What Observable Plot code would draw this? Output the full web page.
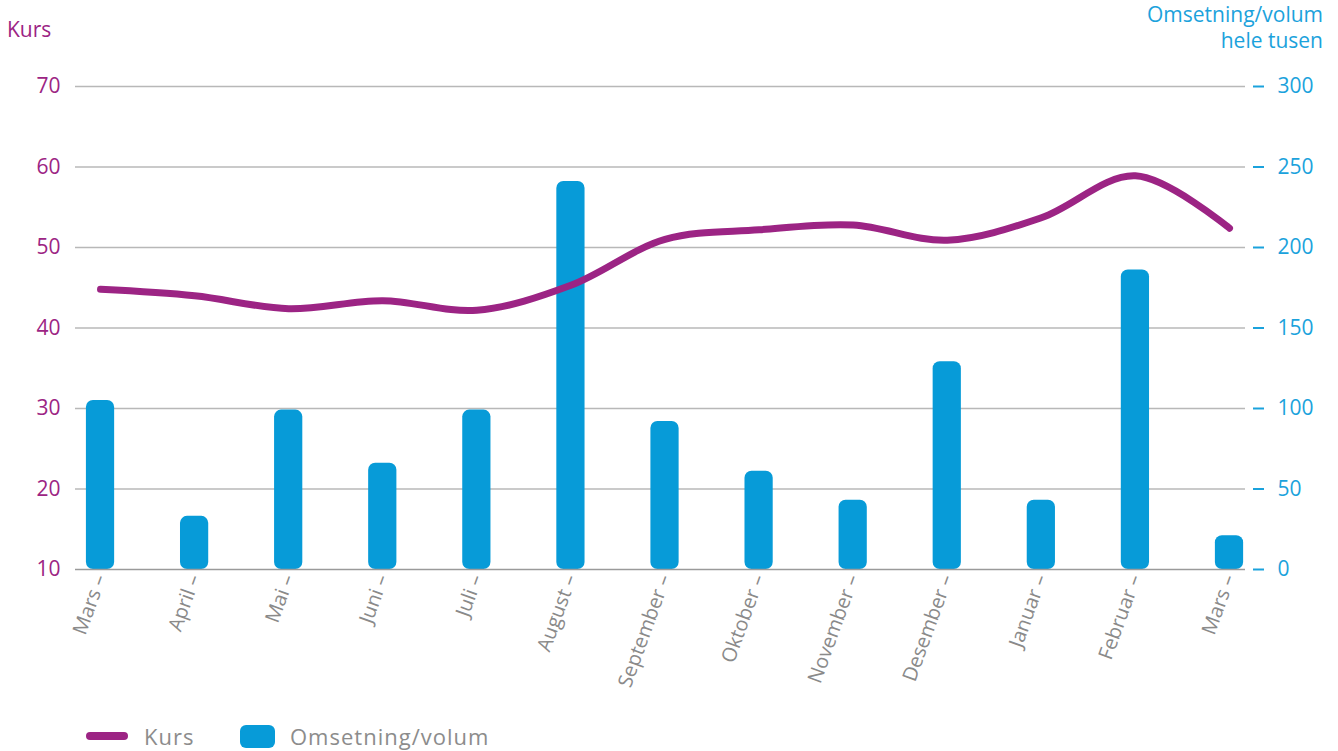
<!DOCTYPE html>
<html><head><meta charset="utf-8">
<script src="https://cdn.jsdelivr.net/npm/d3@7"></script>
<script src="https://cdn.jsdelivr.net/npm/@observablehq/plot@0.6"></script>
<style>
body{margin:0;background:#fff;font-family:"Open Sans",sans-serif;}
#wrap{position:relative;width:1338px;height:751px;overflow:hidden}
#wrap svg{position:absolute;left:0;top:0}
.t{position:absolute;font-size:21px;line-height:26px;white-space:nowrap}
#tl{left:7px;top:16px;color:#9c2484}
#tr{right:15px;top:1px;color:#1ba2dc;text-align:right}
.leg{position:absolute;top:722px;height:28px;display:flex;align-items:center;color:#8c8c8c;font-size:22px;letter-spacing:1px}
.sw1{width:42px;height:8px;border-radius:4px;background:#9c2484;margin-right:16px}
.sw2{width:35px;height:23px;border-radius:6px;background:#079bd8;margin-right:15px}
</style></head><body><div id="wrap"></div>
<script>
const months = ["Mars","April","Mai","Juni","Juli","August","September","Oktober","November","Desember","Januar","Februar","Mars"];
const kurs = [44.8,44.0,42.4,43.4,42.2,45.3,51.0,52.2,52.8,50.9,53.7,58.9,52.4];
const volum = [105,33,99,66,99,241,92,61,43,129,43,186,21];
const leftTicks = [10,20,30,40,50,60,70];
const rightTicks = [0,50,100,150,200,250,300];

const purple = "#9c2484", blue = "#079bd8", blueText = "#1ba2dc";
const toLeft = v => 10 + v / 5;
const data = months.map((m, i) => ({i, m, kurs: kurs[i], vol: volum[i]}));

const plot = Plot.plot({
  width: 1338, height: 700,
  marginTop: 86, marginBottom: 131, marginLeft: 75, marginRight: 93,
  style: {fontFamily: "'Open Sans', sans-serif", background: "transparent"},
  x: {type: "linear", domain: [-0.266, 12.17]},
  y: {domain: [10, 70]},
  marks: [
    Plot.ruleY(leftTicks.slice(1), {stroke: "#b8b8b8", strokeWidth: 1.3}),
    Plot.rectY(data, {x1: d => d.i - 0.15, x2: d => d.i + 0.15, y1: 10, y2: d => toLeft(d.vol), fill: blue, rx: 7}),
    Plot.ruleY([10], {stroke: "#9a9a9a", strokeWidth: 1.5}),
    Plot.line(data, {x: "i", y: "kurs", stroke: purple, strokeWidth: 7, curve: "catmull-rom", strokeLinecap: "round"}),
    Plot.axisY(leftTicks, {anchor: "left", tickSize: 0, tickPadding: 15, fill: purple, fontSize: 21, label: null}),
    Plot.axisY(leftTicks, {anchor: "right", tickSize: 11, dx: 7, text: null, stroke: blueText, strokeWidth: 2, label: null}),
    Plot.axisY(leftTicks, {anchor: "right", tickSize: 0, tickPadding: 32, fill: blueText, fontSize: 21,
      tickFormat: d => String(rightTicks[leftTicks.indexOf(d)]), label: null}),
    Plot.axisX(d3.range(months.length), {anchor: "bottom", tickSize: 0, tickRotate: -70, tickPadding: 6,
      tickFormat: i => months[i] + " –", fill: "#8a8a8a", fontSize: 20, letterSpacing: "0.6px", label: null})
  ]
});
const wrap = document.getElementById("wrap");
wrap.appendChild(plot);
wrap.insertAdjacentHTML("beforeend",
  `<div class="t" id="tl">Kurs</div>
   <div class="t" id="tr">Omsetning/volum<br>hele tusen</div>
   <div class="leg" style="left:86px"><div class="sw1"></div>Kurs</div>
   <div class="leg" style="left:240px"><div class="sw2"></div>Omsetning/volum</div>`);
</script>
</body></html>
